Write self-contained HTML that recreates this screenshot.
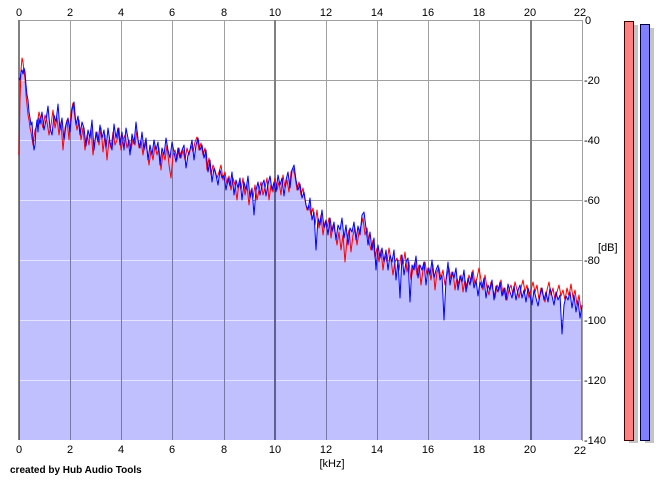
<!DOCTYPE html>
<html><head><meta charset="utf-8"><style>
html,body{margin:0;padding:0;background:#fff;}
svg{display:block;}
text{font-family:"Liberation Sans",Arial,sans-serif;font-size:11px;fill:#000;}
</style></head><body>
<svg width="664" height="481" viewBox="0 0 664 481" xmlns="http://www.w3.org/2000/svg">
<defs>
<clipPath id="fc"><polygon points="19,78 20,80 21,72 22,70 23,74 24,68 25,72 26,85 27,95 28,100 29,112 30,118 31,125 32,122 33,140 34,150 35,145 36,128 37,120 38,132 39,118 40,124 42,112 44,130 46,120 48,106 50,128 52,135 54,115 56,122 58,104 60,130 62,118 64,140 66,125 68,118 70,132 72,110 74,102 76,125 78,116 80,135 82,122 84,128 86,146 88,130 90,138 92,120 94,150 96,132 98,142 100,125 102,138 104,130 106,148 108,128 110,142 112,150 114,124 116,138 118,128 120,145 122,132 124,150 126,128 128,138 130,155 132,134 134,144 136,122 138,140 140,148 142,132 144,150 146,138 148,160 150,145 152,155 154,140 156,150 158,142 160,165 162,148 164,155 166,138 168,150 170,158 172,142 174,152 176,162 178,148 180,158 182,150 184,145 186,168 188,155 190,150 192,140 194,160 196,145 198,138 200,150 202,145 204,158 206,150 208,172 210,160 212,182 214,168 216,175 218,185 220,170 222,178 224,175 226,190 228,178 230,186 232,172 234,195 236,180 238,188 240,178 242,200 244,182 246,190 248,176 250,198 252,188 254,215 256,190 258,182 260,195 262,185 264,180 266,196 268,184 270,176 272,190 274,182 276,192 278,175 280,185 282,178 284,196 286,180 288,172 290,188 292,170 294,165 296,180 298,190 300,184 302,198 304,192 306,205 308,210 310,198 312,220 314,212 316,250 318,218 320,225 322,210 324,228 326,220 328,235 330,218 332,232 334,222 336,240 338,225 340,230 342,218 344,238 346,225 348,245 350,228 352,232 354,222 356,240 358,226 360,235 362,215 364,212 366,228 368,245 370,232 372,250 374,238 376,270 378,245 380,258 382,248 384,262 386,250 388,270 390,255 392,262 394,250 396,280 398,260 400,298 402,255 404,275 406,262 408,258 410,302 412,265 414,270 416,256 418,278 420,265 422,270 424,262 426,285 428,268 430,275 432,260 434,278 436,270 438,265 440,280 442,275 444,320 446,280 448,262 450,285 452,272 454,278 456,268 458,290 460,276 462,282 464,270 466,292 468,278 470,285 472,272 474,288 476,280 478,296 480,282 482,288 484,278 486,298 488,285 490,290 492,280 494,300 496,286 498,292 500,282 502,296 504,288 506,300 508,284 510,292 512,298 514,286 516,300 518,290 520,285 522,298 524,290 526,302 528,288 530,295 532,305 534,290 536,298 538,306 540,295 542,288 544,300 546,292 548,302 550,288 552,296 554,305 556,292 558,300 560,295 562,334 564,305 566,296 568,300 570,292 572,308 574,295 576,312 578,300 580,318 582,305 582,440 19,440"/></clipPath>
</defs>
<rect width="664" height="481" fill="#fff"/>
<!-- gridlines base -->
<g stroke="#a0a0a0" stroke-width="1">
<line x1="19" y1="20.5" x2="582" y2="20.5"/>
<line x1="19" y1="80.5" x2="582" y2="80.5"/>
<line x1="19" y1="140.5" x2="582" y2="140.5"/>
<line x1="19" y1="200.5" x2="582" y2="200.5"/>
<line x1="19" y1="260.5" x2="582" y2="260.5"/>
<line x1="19" y1="320.5" x2="582" y2="320.5"/>
<line x1="19" y1="380.5" x2="582" y2="380.5"/>
<line x1="70.5" y1="20" x2="70.5" y2="440"/>
<line x1="121.5" y1="20" x2="121.5" y2="440"/>
<line x1="172.5" y1="20" x2="172.5" y2="440"/>
<line x1="224.5" y1="20" x2="224.5" y2="440"/>
<line x1="326.5" y1="20" x2="326.5" y2="440"/>
<line x1="377.5" y1="20" x2="377.5" y2="440"/>
<line x1="428.5" y1="20" x2="428.5" y2="440"/>
<line x1="479.5" y1="20" x2="479.5" y2="440"/>
<line x1="582.5" y1="20" x2="582.5" y2="441"/>
</g>
<g stroke="#808080" stroke-width="2">
<line x1="19" y1="20" x2="19" y2="440"/>
<line x1="275" y1="20" x2="275" y2="440"/>
<line x1="531" y1="20" x2="531" y2="440"/>
</g>
<!-- fill -->
<rect x="0" y="0" width="664" height="481" fill="#c0c0ff" clip-path="url(#fc)"/>
<g clip-path="url(#fc)">
<g stroke="#e4e4ff" stroke-width="1">
<line x1="19" y1="80.5" x2="582" y2="80.5"/>
<line x1="19" y1="140.5" x2="582" y2="140.5"/>
<line x1="19" y1="200.5" x2="582" y2="200.5"/>
<line x1="19" y1="260.5" x2="582" y2="260.5"/>
<line x1="19" y1="320.5" x2="582" y2="320.5"/>
<line x1="19" y1="380.5" x2="582" y2="380.5"/>
</g>
<g stroke="#7878a8" stroke-width="1">
<line x1="70.5" y1="20" x2="70.5" y2="440"/>
<line x1="121.5" y1="20" x2="121.5" y2="440"/>
<line x1="172.5" y1="20" x2="172.5" y2="440"/>
<line x1="224.5" y1="20" x2="224.5" y2="440"/>
<line x1="326.5" y1="20" x2="326.5" y2="440"/>
<line x1="377.5" y1="20" x2="377.5" y2="440"/>
<line x1="428.5" y1="20" x2="428.5" y2="440"/>
<line x1="479.5" y1="20" x2="479.5" y2="440"/>
<line x1="581.5" y1="20" x2="581.5" y2="440"/>
</g>
<g stroke="#606090" stroke-width="2">
<line x1="19" y1="20" x2="19" y2="440"/>
<line x1="275" y1="20" x2="275" y2="440"/>
<line x1="531" y1="20" x2="531" y2="440"/>
</g>
</g>
<!-- red series -->
<polyline fill="none" stroke="#ff0000" stroke-width="1" stroke-linejoin="round" points="19,155 20,100 21,70 22,58 23,62 24,72 25,78 26,95 27,105 28,115 29,120 30,128 31,132 33,145 35,130 37,125 39,112 41,120 43,128 45,115 47,122 49,135 51,125 53,110 55,128 57,118 59,135 61,122 63,150 65,128 67,120 69,140 71,112 73,103 75,118 77,130 79,120 81,140 83,128 85,150 87,135 89,145 91,128 93,155 95,140 97,132 99,145 101,128 103,152 105,135 107,160 109,140 111,148 113,132 115,145 117,140 119,128 121,150 123,140 125,135 127,148 129,140 131,150 133,138 135,145 137,130 139,148 141,140 143,155 145,142 147,150 149,165 151,150 153,160 155,145 157,155 159,148 161,170 163,152 165,160 167,145 169,165 171,178 173,155 175,150 177,160 179,148 181,158 183,150 185,160 187,148 189,155 191,145 193,152 195,142 197,137 199,150 201,143 203,155 205,148 207,170 209,158 211,175 213,165 215,170 217,178 219,172 221,165 223,180 225,172 227,185 229,176 231,190 233,178 235,185 237,200 239,182 241,190 243,178 245,195 247,185 249,205 251,190 253,198 255,185 257,200 259,190 261,182 263,195 265,188 267,178 269,200 271,185 273,192 275,178 277,190 279,182 281,195 283,175 285,188 287,180 289,192 291,172 293,168 295,176 297,190 299,182 301,195 303,188 305,200 307,210 309,205 311,215 313,208 315,225 317,210 319,228 321,215 323,235 325,222 327,228 329,218 331,238 333,225 335,232 337,245 339,232 341,250 343,235 345,262 347,240 349,230 351,252 353,235 355,228 357,245 359,232 361,226 363,218 365,235 367,228 369,242 371,250 373,240 375,258 377,248 379,262 381,250 383,270 385,255 387,262 389,248 391,260 393,275 395,262 397,258 399,270 401,255 403,265 405,252 407,272 409,262 411,280 413,268 415,262 417,275 419,265 421,285 423,270 425,262 427,275 429,268 431,280 433,265 435,290 437,272 439,268 441,278 443,270 445,285 447,275 449,268 451,280 453,272 455,290 457,278 459,285 461,275 463,292 465,280 467,288 469,275 471,282 473,270 475,285 477,278 479,268 481,280 483,290 485,275 487,288 489,295 491,282 493,290 495,298 497,285 499,290 501,280 503,295 505,288 507,300 509,290 511,285 513,295 515,282 517,290 519,298 521,288 523,280 525,292 527,285 529,298 531,290 533,282 535,292 537,285 539,300 541,288 543,295 545,302 547,290 549,282 551,295 553,288 555,300 557,292 559,285 561,296 563,290 565,300 567,288 569,296 571,284 573,298 575,290 577,305 579,295 581,310"/>
<!-- blue series -->
<polyline fill="none" stroke="#0000ff" stroke-width="1" stroke-linejoin="round" points="19,78 20,80 21,72 22,70 23,74 24,68 25,72 26,85 27,95 28,100 29,112 30,118 31,125 32,122 33,140 34,150 35,145 36,128 37,120 38,132 39,118 40,124 42,112 44,130 46,120 48,106 50,128 52,135 54,115 56,122 58,104 60,130 62,118 64,140 66,125 68,118 70,132 72,110 74,102 76,125 78,116 80,135 82,122 84,128 86,146 88,130 90,138 92,120 94,150 96,132 98,142 100,125 102,138 104,130 106,148 108,128 110,142 112,150 114,124 116,138 118,128 120,145 122,132 124,150 126,128 128,138 130,155 132,134 134,144 136,122 138,140 140,148 142,132 144,150 146,138 148,160 150,145 152,155 154,140 156,150 158,142 160,165 162,148 164,155 166,138 168,150 170,158 172,142 174,152 176,162 178,148 180,158 182,150 184,145 186,168 188,155 190,150 192,140 194,160 196,145 198,138 200,150 202,145 204,158 206,150 208,172 210,160 212,182 214,168 216,175 218,185 220,170 222,178 224,175 226,190 228,178 230,186 232,172 234,195 236,180 238,188 240,178 242,200 244,182 246,190 248,176 250,198 252,188 254,215 256,190 258,182 260,195 262,185 264,180 266,196 268,184 270,176 272,190 274,182 276,192 278,175 280,185 282,178 284,196 286,180 288,172 290,188 292,170 294,165 296,180 298,190 300,184 302,198 304,192 306,205 308,210 310,198 312,220 314,212 316,250 318,218 320,225 322,210 324,228 326,220 328,235 330,218 332,232 334,222 336,240 338,225 340,230 342,218 344,238 346,225 348,245 350,228 352,232 354,222 356,240 358,226 360,235 362,215 364,212 366,228 368,245 370,232 372,250 374,238 376,270 378,245 380,258 382,248 384,262 386,250 388,270 390,255 392,262 394,250 396,280 398,260 400,298 402,255 404,275 406,262 408,258 410,302 412,265 414,270 416,256 418,278 420,265 422,270 424,262 426,285 428,268 430,275 432,260 434,278 436,270 438,265 440,280 442,275 444,320 446,280 448,262 450,285 452,272 454,278 456,268 458,290 460,276 462,282 464,270 466,292 468,278 470,285 472,272 474,288 476,280 478,296 480,282 482,288 484,278 486,298 488,285 490,290 492,280 494,300 496,286 498,292 500,282 502,296 504,288 506,300 508,284 510,292 512,298 514,286 516,300 518,290 520,285 522,298 524,290 526,302 528,288 530,295 532,305 534,290 536,298 538,306 540,295 542,288 544,300 546,292 548,302 550,288 552,296 554,305 556,292 558,300 560,295 562,334 564,305 566,296 568,300 570,292 572,308 574,295 576,312 578,300 580,318 582,305"/>
<!-- top x labels -->
<g text-anchor="middle">
<text x="19" y="16">0</text>
<text x="70" y="16">2</text>
<text x="121" y="16">4</text>
<text x="172" y="16">6</text>
<text x="224" y="16">8</text>
<text x="275" y="16">10</text>
<text x="326" y="16">12</text>
<text x="377" y="16">14</text>
<text x="428" y="16">16</text>
<text x="479" y="16">18</text>
<text x="530" y="16">20</text>
<text x="580" y="16">22</text>
</g>
<!-- bottom x labels -->
<g text-anchor="middle">
<text x="19" y="453">0</text>
<text x="70" y="453">2</text>
<text x="121" y="453">4</text>
<text x="172" y="453">6</text>
<text x="224" y="453">8</text>
<text x="275" y="453">10</text>
<text x="326" y="453">12</text>
<text x="377" y="453">14</text>
<text x="428" y="453">16</text>
<text x="479" y="453">18</text>
<text x="530" y="453">20</text>
<text x="580" y="454">22</text>
<text x="332" y="467">[kHz]</text>
</g>
<!-- right y labels -->
<g>
<text x="585" y="24">0</text>
<text x="584" y="84">-20</text>
<text x="584" y="144">-40</text>
<text x="584" y="204">-60</text>
<text x="584" y="264">-80</text>
<text x="584" y="324">-100</text>
<text x="584" y="384">-120</text>
<text x="584" y="444">-140</text>
<text x="598" y="251">[dB]</text>
</g>
<text x="10" y="473" style="font-size:10px;font-weight:bold">created by Hub Audio Tools</text>
<!-- meters -->
<rect x="629" y="25" width="9" height="418" fill="#c4c4c4"/>
<rect x="645" y="28" width="9" height="415" fill="#c4c4c4"/>
<rect x="624.5" y="21.5" width="9" height="419" fill="#ff8080" stroke="#400000" stroke-width="1"/>
<rect x="640.5" y="24.5" width="9" height="416" fill="#8080ff" stroke="#000040" stroke-width="1"/>
</svg>
</body></html>
